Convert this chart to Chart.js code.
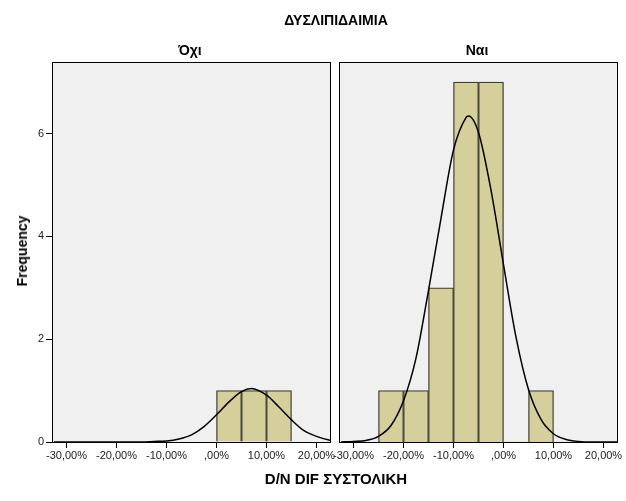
<!DOCTYPE html>
<html>
<head>
<meta charset="utf-8">
<script src="https://cdn.jsdelivr.net/npm/chart.js@4.4.0/dist/chart.umd.min.js"></script>
<style>
body { margin: 0; background: #fff; }
#wrap { position: relative; width: 626px; height: 501px; font-family: 'Liberation Sans', Arial, sans-serif; }
#wrap canvas { position: absolute; left: 0; top: 0; }
.lbl { position: absolute; font-weight: bold; color: #000; white-space: nowrap; transform: translate(-50%, -50%); }
</style>
</head>
<body>
<div id="wrap">
  <canvas id="noChart" width="626" height="501"></canvas>
  <canvas id="yesChart" width="626" height="501"></canvas>
  <div class="lbl" style="left:336px;top:20px;font-size:14px">ΔΥΣΛΙΠΙΔΑΙΜΙΑ</div>
  <div class="lbl" style="left:190px;top:50px;font-size:14px">Όχι</div>
  <div class="lbl" style="left:477px;top:50px;font-size:14px">Ναι</div>
  <div class="lbl" style="left:336px;top:478px;font-size:15px">D/N DIF ΣΥΣΤΟΛΙΚΗ</div>
  <div class="lbl" style="left:22px;top:251px;font-size:14px;transform:translate(-50%,-50%) rotate(-90deg)">Frequency</div>
</div>
<script>
// tick values
const xTickValues = [-30, -20, -10, 0, 10, 20];
const yTickValues = [0, 2, 4, 6];

// Όχι panel: bins of 5% (mid points) and counts
const noBinMids = [2.5, 7.5, 12.5];
const noCounts = [1, 1, 1];

// Ναι panel
const yesBinMids = [-22.5, -17.5, -12.5, -7.5, -2.5, 2.5, 7.5];
const yesCounts = [1, 1, 3, 7, 7, 0, 1];

// normal curves
const noCurveX = [-32.5, -30, -27.5, -25, -22.5, -20, -17.5, -15, -12.5, -10, -7.5, -5, -2.5, 0, 2.5, 5, 7, 10, 12.5, 15, 17.5, 20, 22.5, 25];
const noCurveY = [0, 0, 0, 0, 0, 0, 0, 0, 0.01, 0.02, 0.06, 0.14, 0.30, 0.53, 0.78, 0.98, 1.04, 0.91, 0.68, 0.43, 0.22, 0.11, 0.04, 0.015];
const yesCurveX = [-32.5, -30, -27.5, -25, -22.5, -20, -17.5, -15, -12.5, -10, -7.5, -7, -5, -2.5, 0, 2.5, 5, 7.5, 10, 12.5, 15, 17.5, 20, 22.5, 25];
const yesCurveY = [0, 0.01, 0.03, 0.11, 0.32, 0.80, 1.63, 2.95, 4.35, 5.68, 6.31, 6.34, 6.02, 4.90, 3.45, 2.04, 1.02, 0.44, 0.16, 0.05, 0.01, 0, 0, 0, 0];

const FONT = "'Liberation Sans', Arial, sans-serif";

function pctLabel(v) {
    if (v === 0) return ',00%';
    return v.toFixed(2).replace('.', ',') + '%';
}

// grey plot background and black frame
const panelBox = {
    id: 'panelBox',
    beforeDraw(chart) {
        const a = chart.chartArea;
        const c = chart.ctx;
        c.save();
        c.fillStyle = '#f0f0f0';
        c.fillRect(a.left, a.top, a.right - a.left, a.bottom - a.top);
        c.restore();
    },
    afterDraw(chart) {
        const a = chart.chartArea;
        const c = chart.ctx;
        c.save();
        c.strokeStyle = '#000';
        c.lineWidth = 1;
        c.strokeRect(a.left + 0.5, a.top + 0.5, a.right - a.left - 1, a.bottom - a.top);
        c.restore();
    }
};

function drawPanel(canvasId, mids, counts, curveX, curveY, pad, showY) {
    const ctx = document.getElementById(canvasId).getContext('2d');
    new Chart(ctx, {
        type: 'bar',
        plugins: [panelBox],
        data: {
            datasets: [
                {
                    type: 'line',
                    data: curveX.map((x, i) => ({ x: x, y: curveY[i] })),
                    borderColor: '#000',
                    borderWidth: 1.5,
                    pointRadius: 0,
                    cubicInterpolationMode: 'monotone',
                    fill: false,
                    order: 0
                },
                {
                    type: 'bar',
                    data: mids.map((x, i) => ({ x: x, y: counts[i] })),
                    backgroundColor: '#d4cf9b',
                    borderColor: '#3c3c34',
                    borderWidth: c => (c.raw && c.raw.y ? 1.3 : 0),
                    barPercentage: 1,
                    categoryPercentage: 1,
                    order: 1
                }
            ]
        },
        options: {
            responsive: false,
            animation: false,
            layout: { padding: pad },
            plugins: { legend: { display: false }, tooltip: { enabled: false } },
            scales: {
                x: {
                    type: 'linear',
                    min: -32.9,
                    max: 22.9,
                    offset: false,
                    grid: { display: true, offset: false, drawOnChartArea: false, drawTicks: true, tickLength: 6, tickColor: '#000' },
                    border: { display: false },
                    ticks: { color: '#222', font: { family: FONT, size: 11 }, padding: 1, maxRotation: 0, autoSkip: false, callback: pctLabel },
                    afterBuildTicks: s => { s.ticks = xTickValues.map(v => ({ value: v })); },
                    afterFit: s => { s.height = 59; s.paddingLeft = 0; s.paddingRight = 0; }
                },
                y: {
                    display: showY,
                    min: 0,
                    max: 7.39,
                    grid: { display: true, drawOnChartArea: false, drawTicks: true, tickLength: 6, tickColor: '#000' },
                    border: { display: false },
                    ticks: { color: '#222', font: { family: FONT, size: 11 }, padding: 2 },
                    afterBuildTicks: s => { s.ticks = yTickValues.map(v => ({ value: v })); },
                    afterFit: s => { s.width = showY ? 52 : 0; s.paddingTop = 0; s.paddingBottom = 0; }
                }
            }
        }
    });
}

drawPanel('noChart', noBinMids, noCounts, noCurveX, noCurveY, { left: 0, right: 295, top: 62, bottom: 0 }, true);
drawPanel('yesChart', yesBinMids, yesCounts, yesCurveX, yesCurveY, { left: 339, right: 8, top: 62, bottom: 0 }, false);
</script>
</body>
</html>
